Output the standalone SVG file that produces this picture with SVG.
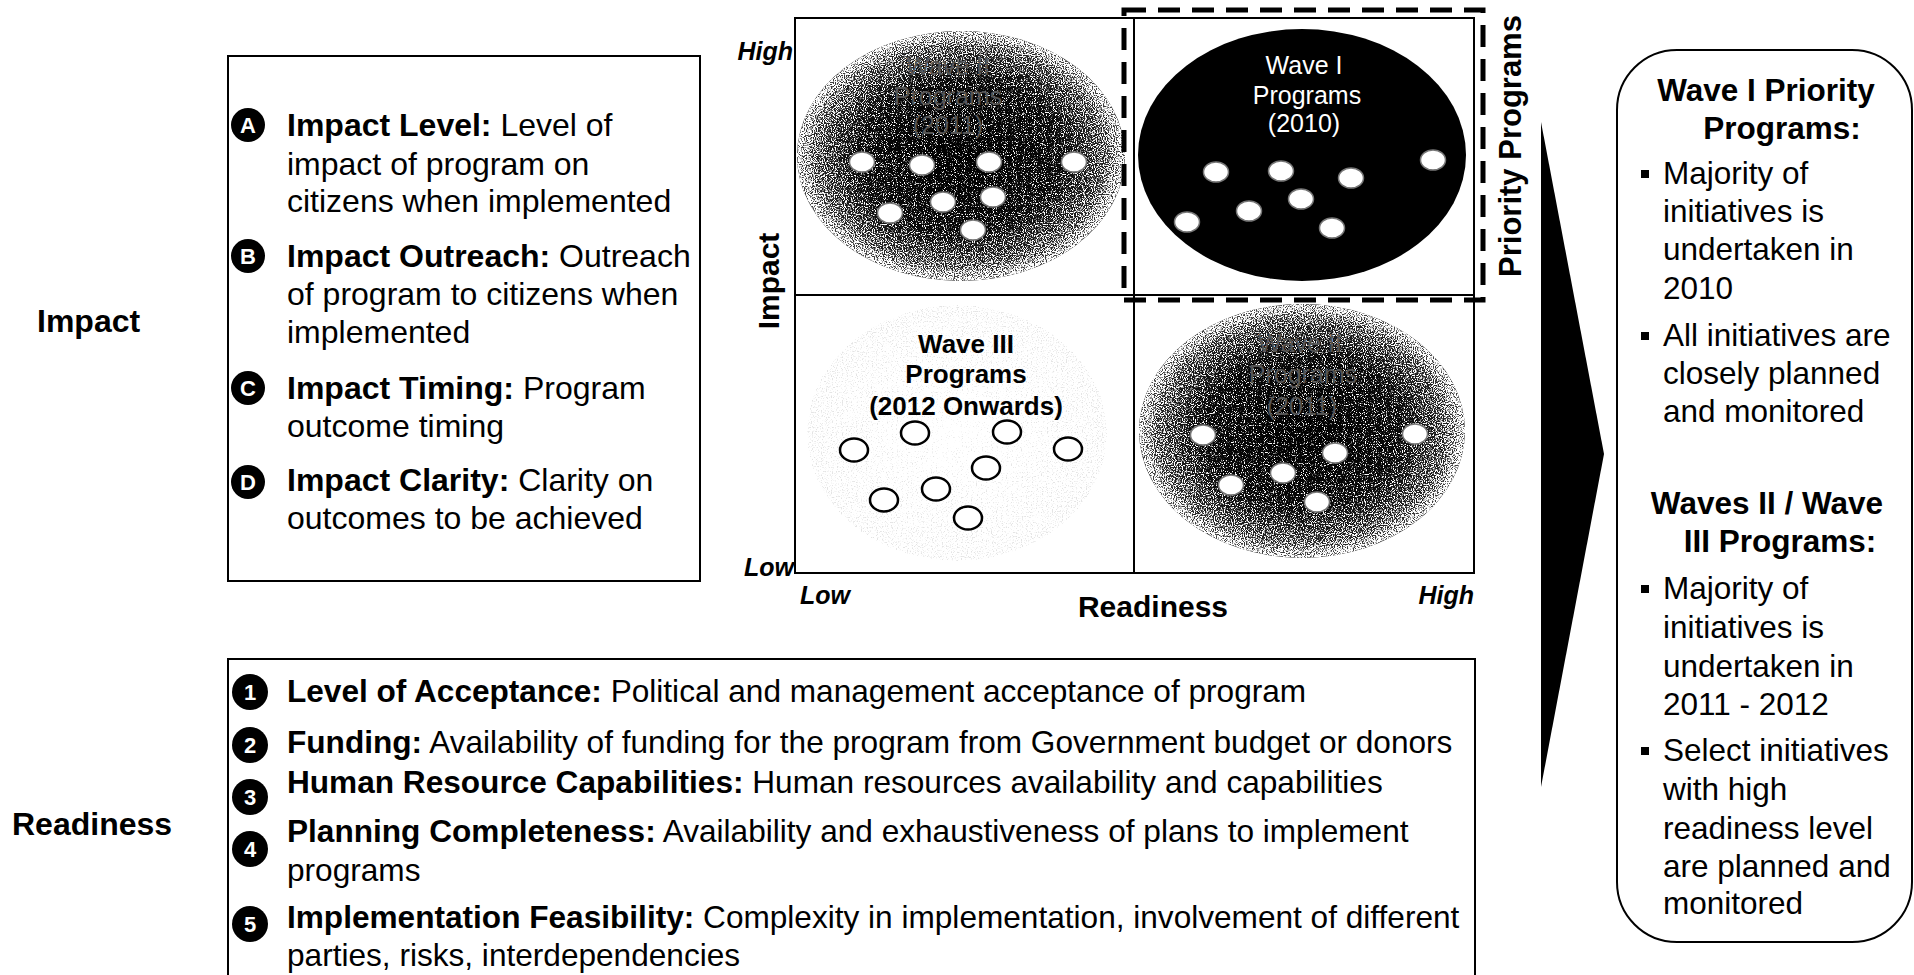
<svg xmlns="http://www.w3.org/2000/svg" width="1914" height="975" viewBox="0 0 1914 975">
<style>
text{font-family:"Liberation Sans",Arial,sans-serif;fill:#000}
.t{font-size:32px}
.q{font-size:31.6px}
.r{font-size:31.5px}
.b{font-weight:bold}
.box{fill:#fff;stroke:#000;stroke-width:2}
.ax{font-size:25px;font-weight:bold;font-style:italic}
.wl{font-size:25px;fill:#fff;text-anchor:middle}
.ghost{font-size:25px;fill:#555;text-anchor:middle}
.w3{font-size:26px;font-weight:bold;text-anchor:middle}
.dot{fill:#fff;stroke:#777;stroke-width:1.5}
.hol{fill:#fff;stroke:#000;stroke-width:2.5}
.bc{fill:#000}
.bl{fill:#fff;font-size:22px;font-weight:bold;text-anchor:middle}
.hd{font-size:31.5px;font-weight:bold;text-anchor:middle}
</style>
<defs>
<radialGradient id="dark" cx="0.5" cy="0.5" r="0.5">
<stop offset="0" stop-color="#000"/>
<stop offset="0.6" stop-color="#080808"/>
<stop offset="0.9" stop-color="#222"/>
<stop offset="1" stop-color="#444"/>
</radialGradient>
<radialGradient id="spk" cx="0.5" cy="0.5" r="0.5">
<stop offset="0" stop-color="#fff" stop-opacity="0.42"/>
<stop offset="0.6" stop-color="#fff" stop-opacity="0.48"/>
<stop offset="0.88" stop-color="#fff" stop-opacity="0.62"/>
<stop offset="1" stop-color="#fff" stop-opacity="0.78"/>
</radialGradient>
<radialGradient id="spk3" cx="0.5" cy="0.5" r="0.5">
<stop offset="0" stop-color="#000" stop-opacity="0.35"/>
<stop offset="1" stop-color="#000" stop-opacity="0.5"/>
</radialGradient>
<filter id="grainW" x="-5%" y="-5%" width="110%" height="110%">
<feTurbulence type="fractalNoise" baseFrequency="0.9" numOctaves="1" seed="4" result="n"/>
<feColorMatrix in="n" type="matrix" values="0 0 0 0 1  0 0 0 0 1  0 0 0 0 1  1.6 0 0 0 -0.3" result="na"/>
<feComposite in="SourceGraphic" in2="na" operator="arithmetic" k1="0" k2="1" k3="1" k4="-1.05" result="c"/>
<feComponentTransfer in="c"><feFuncA type="linear" slope="5"/></feComponentTransfer>
</filter>
<filter id="grainB" x="-5%" y="-5%" width="110%" height="110%">
<feTurbulence type="fractalNoise" baseFrequency="0.8" numOctaves="1" seed="9" result="n"/>
<feColorMatrix in="n" type="matrix" values="0 0 0 0 0  0 0 0 0 0  0 0 0 0 0  1.6 0 0 0 -0.3" result="na"/>
<feComposite in="SourceGraphic" in2="na" operator="arithmetic" k1="0" k2="1" k3="1" k4="-1.05" result="c"/>
<feComponentTransfer in="c"><feFuncA type="linear" slope="4"/></feComponentTransfer>
</filter>
</defs>
<rect width="1914" height="975" fill="#fff"/>

<g id="label-impact"><text class="t b" x="37" y="332">Impact</text></g>
<g id="label-readiness"><text class="t b" x="12" y="835">Readiness</text></g>

<g id="impact-box">
<rect class="box" x="228" y="56" width="472" height="525"/>
<circle class="bc" cx="248" cy="125" r="17"/><text class="bl" x="248" y="133">A</text>
<circle class="bc" cx="248" cy="256" r="17"/><text class="bl" x="248" y="264">B</text>
<circle class="bc" cx="248" cy="388" r="17"/><text class="bl" x="248" y="396">C</text>
<circle class="bc" cx="248" cy="482" r="17"/><text class="bl" x="248" y="490">D</text>
<text class="t" x="287" y="136"><tspan class="b">Impact Level:</tspan> Level of</text>
<text class="t" x="287" y="175">impact of program on</text>
<text class="t" x="287" y="212">citizens when implemented</text>
<text class="t" x="287" y="267"><tspan class="b">Impact Outreach:</tspan> Outreach</text>
<text class="t" x="287" y="305">of program to citizens when</text>
<text class="t" x="287" y="343">implemented</text>
<text class="t" x="287" y="399"><tspan class="b">Impact Timing:</tspan> Program</text>
<text class="t" x="287" y="437">outcome timing</text>
<text class="t" x="287" y="491"><tspan class="b">Impact Clarity:</tspan> Clarity on</text>
<text class="t" x="287" y="529">outcomes to be achieved</text>
</g>

<g id="matrix">
<rect x="795" y="18" width="679" height="555" fill="#fff" stroke="#000" stroke-width="2"/>
<line x1="1134" y1="18" x2="1134" y2="573" stroke="#000" stroke-width="2"/>
<line x1="795" y1="295" x2="1474" y2="295" stroke="#000" stroke-width="2"/>
<text class="ax" x="793" y="60" text-anchor="end">High</text>
<text class="ax" x="794" y="576" text-anchor="end">Low</text>
<text class="ax" x="800" y="604">Low</text>
<text class="ax" x="1474" y="604" text-anchor="end">High</text>
<text class="b" x="1153" y="617" font-size="30" text-anchor="middle">Readiness</text>
<text class="b" font-size="30" text-anchor="middle" transform="translate(779,281) rotate(-90)">Impact</text>
</g>

<g id="wave2-top">
<ellipse cx="961" cy="156" rx="164" ry="125" fill="url(#dark)"/>
<ellipse cx="961" cy="156" rx="164" ry="125" fill="url(#spk)" filter="url(#grainW)"/>
<text class="ghost" x="948" y="75">Wave II</text>
<text class="ghost" x="948" y="105">Programs</text>
<text class="ghost" x="948" y="134">(2011)</text>
<ellipse class="dot" cx="862" cy="162" rx="12.5" ry="10"/>
<ellipse class="dot" cx="922" cy="165" rx="12.5" ry="10"/>
<ellipse class="dot" cx="989" cy="162" rx="12.5" ry="10"/>
<ellipse class="dot" cx="1074" cy="162" rx="12.5" ry="10"/>
<ellipse class="dot" cx="890" cy="213" rx="12.5" ry="10"/>
<ellipse class="dot" cx="943" cy="202" rx="12.5" ry="10"/>
<ellipse class="dot" cx="993" cy="197" rx="12.5" ry="10"/>
<ellipse class="dot" cx="973" cy="230" rx="12.5" ry="10"/>
</g>

<g id="wave1">
<ellipse cx="1302" cy="155" rx="164" ry="126" fill="#000"/>
<text class="wl" x="1304" y="74">Wave I</text>
<text class="wl" x="1307" y="104">Programs</text>
<text class="wl" x="1304" y="132">(2010)</text>
<ellipse class="dot" cx="1216" cy="172" rx="12.5" ry="10"/>
<ellipse class="dot" cx="1281" cy="171" rx="12.5" ry="10"/>
<ellipse class="dot" cx="1351" cy="178" rx="12.5" ry="10"/>
<ellipse class="dot" cx="1433" cy="160" rx="12.5" ry="10"/>
<ellipse class="dot" cx="1187" cy="222" rx="12.5" ry="10"/>
<ellipse class="dot" cx="1249" cy="211" rx="12.5" ry="10"/>
<ellipse class="dot" cx="1301" cy="199" rx="12.5" ry="10"/>
<ellipse class="dot" cx="1332" cy="228" rx="12.5" ry="10"/>
</g>

<g id="wave3">
<g opacity="0.1"><ellipse cx="957" cy="433" rx="150" ry="128" fill="url(#spk3)" filter="url(#grainB)"/></g>
<text class="w3" x="966" y="353">Wave III</text>
<text class="w3" x="966" y="383">Programs</text>
<text class="w3" x="966" y="415">(2012 Onwards)</text>
<ellipse class="hol" cx="854" cy="450" rx="14" ry="11.5"/>
<ellipse class="hol" cx="915" cy="433" rx="14" ry="11.5"/>
<ellipse class="hol" cx="1007" cy="432" rx="14" ry="11.5"/>
<ellipse class="hol" cx="1068" cy="449" rx="14" ry="11.5"/>
<ellipse class="hol" cx="986" cy="468" rx="14" ry="11.5"/>
<ellipse class="hol" cx="936" cy="489" rx="14" ry="11.5"/>
<ellipse class="hol" cx="884" cy="500" rx="14" ry="11.5"/>
<ellipse class="hol" cx="968" cy="518" rx="14" ry="11.5"/>
</g>

<g id="wave2-bottom">
<ellipse cx="1302" cy="431" rx="163" ry="127" fill="url(#dark)"/>
<ellipse cx="1302" cy="431" rx="163" ry="127" fill="url(#spk)" filter="url(#grainW)"/>
<text class="ghost" x="1300" y="352">Wave II</text>
<text class="ghost" x="1303" y="383">Programs</text>
<text class="ghost" x="1302" y="415">(2011)</text>
<ellipse class="dot" cx="1203" cy="435" rx="12.5" ry="10"/>
<ellipse class="dot" cx="1415" cy="434" rx="12.5" ry="10"/>
<ellipse class="dot" cx="1335" cy="453" rx="12.5" ry="10"/>
<ellipse class="dot" cx="1283" cy="473" rx="12.5" ry="10"/>
<ellipse class="dot" cx="1231" cy="485" rx="12.5" ry="10"/>
<ellipse class="dot" cx="1317" cy="502" rx="12.5" ry="10"/>
</g>

<g id="priority">
<rect x="1124" y="10" width="359" height="290" fill="none" stroke="#000" stroke-width="5" stroke-dasharray="22 12"/>
<text font-size="31" font-weight="bold" text-anchor="middle" transform="translate(1521,146) rotate(-90)">Priority Programs</text>
</g>

<g id="connectors">
<polygon points="1541,122 1604,454 1541,787" fill="#000"/>
</g>

<g id="summary-box">
<rect class="box" x="1617" y="50" width="295" height="892" rx="60" ry="60"/>
<text class="hd" x="1766" y="101">Wave I Priority</text>
<text class="hd" x="1782" y="139">Programs:</text>
<rect x="1641" y="170" width="8" height="8"/>
<text class="r" x="1663" y="184">Majority of</text>
<text class="r" x="1663" y="222">initiatives is</text>
<text class="r" x="1663" y="260">undertaken in</text>
<text class="r" x="1663" y="299">2010</text>
<rect x="1641" y="332" width="8" height="8"/>
<text class="r" x="1663" y="346">All initiatives are</text>
<text class="r" x="1663" y="384">closely planned</text>
<text class="r" x="1663" y="422">and monitored</text>
<text class="hd" x="1767" y="514">Waves II / Wave</text>
<text class="hd" x="1780" y="552">III Programs:</text>
<rect x="1641" y="585" width="8" height="8"/>
<text class="r" x="1663" y="599">Majority of</text>
<text class="r" x="1663" y="638">initiatives is</text>
<text class="r" x="1663" y="677">undertaken in</text>
<text class="r" x="1663" y="715">2011 - 2012</text>
<rect x="1641" y="747" width="8" height="8"/>
<text class="r" x="1663" y="761">Select initiatives</text>
<text class="r" x="1663" y="800">with high</text>
<text class="r" x="1663" y="839">readiness level</text>
<text class="r" x="1663" y="877">are planned and</text>
<text class="r" x="1663" y="914">monitored</text>
</g>

<g id="readiness-box">
<rect class="box" x="228" y="659" width="1247" height="330"/>
<circle class="bc" cx="250" cy="692" r="18"/><text class="bl" x="250" y="700">1</text>
<circle class="bc" cx="250" cy="745" r="18"/><text class="bl" x="250" y="753">2</text>
<circle class="bc" cx="250" cy="797" r="18"/><text class="bl" x="250" y="805">3</text>
<circle class="bc" cx="250" cy="849" r="18"/><text class="bl" x="250" y="857">4</text>
<circle class="bc" cx="250" cy="924" r="18"/><text class="bl" x="250" y="932">5</text>
<text class="q" x="287" y="702"><tspan class="b">Level of Acceptance:</tspan> Political and management acceptance of program</text>
<text class="q" x="287" y="753"><tspan class="b">Funding:</tspan> Availability of funding for the program from Government budget or donors</text>
<text class="q" x="287" y="793"><tspan class="b">Human Resource Capabilities:</tspan> Human resources availability and capabilities</text>
<text class="q" x="287" y="842"><tspan class="b">Planning Completeness:</tspan> Availability and exhaustiveness of plans to implement</text>
<text class="q" x="287" y="881">programs</text>
<text class="q" x="287" y="928"><tspan class="b">Implementation Feasibility:</tspan> Complexity in implementation, involvement of different</text>
<text class="q" x="287" y="966">parties, risks, interdependencies</text>
</g>
</svg>
